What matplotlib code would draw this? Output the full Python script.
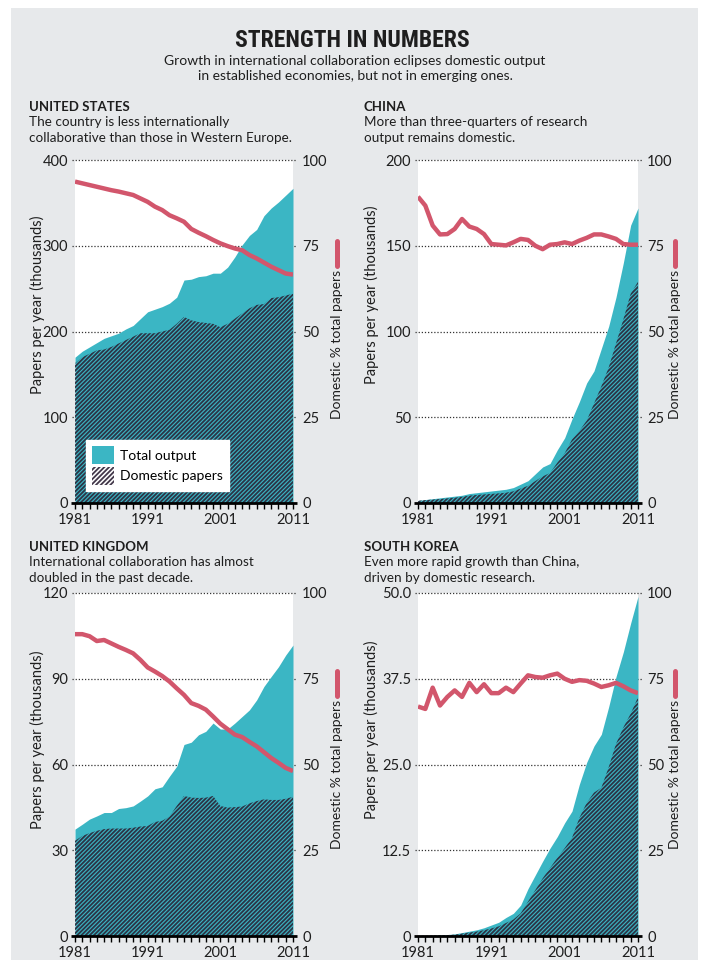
import matplotlib
matplotlib.use("Agg")
import matplotlib.pyplot as plt
from matplotlib.patches import Patch, Rectangle
from matplotlib.lines import Line2D

plt.rcParams['font.family'] = ['Lato', 'DejaVu Sans']
plt.rcParams['hatch.linewidth'] = 1.3

# Dados (1981-2011)
years = list(range(1981, 2012))

us_total = [170, 177, 182, 187, 192, 195, 198, 203, 207, 215, 223, 226, 229, 233, 240, 260,
            261, 264, 265, 268, 268, 275, 287, 301, 312, 319, 335, 344, 351, 359, 367]
us_domestic = [163, 170, 174, 178, 179, 182, 186, 190, 194, 198, 198, 198, 200, 202, 209, 217,
               213, 211, 210, 209, 205, 209, 215, 221, 227, 231, 232, 239, 240, 242, 244]
us_pct = [93.7, 93.2, 92.7, 92.2, 91.7, 91.2, 90.8, 90.3, 89.8, 88.8, 87.8, 86.4, 85.4, 83.9,
          83.0, 82.0, 79.9, 78.8, 77.8, 76.7, 75.7, 74.9, 74.2, 73.7, 72.3, 71.3, 70.1, 68.9,
          67.9, 66.9, 66.6]

cn_total = [1.5, 2, 2.5, 3, 3.5, 4, 4.5, 5.5, 6, 6.5, 7, 7.5, 8, 9, 11, 13, 17, 21, 23, 31,
            38, 49, 59, 70, 77, 90, 103, 120, 140, 162, 172]
cn_domestic = [1.3, 1.7, 2, 2.3, 2.7, 3.1, 3.6, 4.3, 4.7, 5, 5.3, 5.6, 6, 6.8, 8.4, 10, 12.8,
               15.5, 17.5, 23.5, 29, 37, 42, 48, 58, 68, 79, 93, 107, 122, 129]
cn_pct = [89.3, 86.7, 80.9, 78.3, 78.4, 79.9, 82.8, 80.6, 79.9, 78.4, 75.5, 75.3, 75.1, 76.0,
          77.0, 76.7, 75.0, 74.0, 75.3, 75.5, 76.0, 75.5, 76.5, 77.3, 78.3, 78.3, 77.7, 77.0,
          75.5, 75.3, 75.3]

uk_total = [37.4, 39.1, 40.9, 42.0, 43.2, 43.2, 44.6, 44.9, 45.5, 47.2, 49.0, 51.5, 52.2, 55.9,
            59.4, 67.0, 67.8, 70.4, 71.6, 74.5, 72.4, 72.4, 74.5, 76.8, 79.1, 82.6, 87.3, 90.8,
            94.2, 98.3, 101.8]
uk_domestic = [33.3, 35.0, 36.0, 36.8, 37.4, 37.6, 37.6, 37.6, 37.9, 38.3, 38.5, 39.9, 40.3,
               41.8, 45.5, 49.0, 48.4, 48.3, 48.4, 49.0, 45.5, 44.9, 45.1, 45.3, 46.4, 47.2,
               47.8, 47.6, 47.6, 48.0, 48.7]
uk_pct = [88.0, 88.0, 87.4, 86.0, 86.3, 85.3, 84.3, 83.4, 82.4, 80.5, 78.3, 77.1, 75.8, 74.2,
          72.2, 70.3, 67.9, 67.1, 66.0, 64.0, 61.9, 60.3, 58.7, 58.0, 56.6, 55.3, 53.6, 51.9,
          50.5, 49.0, 48.1]

kr_total = [0.05, 0.07, 0.1, 0.15, 0.2, 0.3, 0.5, 0.7, 0.9, 1.2, 1.6, 2.0, 2.7, 3.3, 4.5, 6.9,
            8.9, 10.9, 12.8, 14.5, 16.5, 18.2, 22.1, 25.3, 27.7, 29.4, 33.4, 37.8, 41.4, 45.6, 49.5]
kr_domestic = [0.03, 0.05, 0.07, 0.1, 0.14, 0.2, 0.35, 0.5, 0.65, 0.85, 1.1, 1.4, 1.9, 2.4,
               3.3, 5.0, 6.7, 8.4, 9.9, 11.4, 12.8, 14.3, 17.2, 19.4, 20.9, 21.6, 24.6, 28.0,
               30.4, 32.4, 34.8]
kr_pct = [66.9, 66.2, 72.4, 67.2, 69.7, 71.6, 69.7, 73.8, 71.1, 73.4, 70.8, 70.8, 72.4, 71.1,
          73.6, 76.0, 75.5, 75.3, 76.0, 76.5, 75.0, 74.1, 74.6, 74.4, 73.6, 72.6, 73.1, 73.8,
          72.8, 71.6, 70.8]

us_ticks = [0, 100, 200, 300, 400]
cn_ticks = [0, 50, 100, 150, 200]
uk_ticks = [0, 30, 60, 90, 120]
kr_ticks = [0, 12.5, 25.0, 37.5, 50.0]
kr_ticklabels = ["0", "12.5", "25.0", "37.5", "50.0"]
pct_ticks = [0, 25, 50, 75, 100]
year_labels = [1981, 1991, 2001, 2011]

TEAL = '#3bb6c4'
DARK = '#2c3446'
RED = '#d2566c'
GRAY = '#e7e9eb'
INK = '#1e1e1e'

W, H = 711, 960
def fx(x):
    return x / W
def fy(y):
    return 1 - y / H

fig = plt.figure(figsize=(7.11, 9.6), dpi=100)
fig.patches.append(Rectangle((fx(11), 0), fx(698) - fx(11), fy(8), transform=fig.transFigure,
                             facecolor=GRAY, edgecolor='none', zorder=-10))

fig.text(fx(352), fy(47), "STRENGTH IN NUMBERS", ha='center', va='baseline', fontsize=17,
         fontweight='bold', fontstretch='condensed',
         family=['Roboto Condensed', 'DejaVu Sans Condensed', 'Liberation Sans Narrow',
                 'Open Sans Condensed', 'Roboto'], color=INK)
fig.text(fx(355), fy(65), "Growth in international collaboration eclipses domestic output",
         ha='center', va='baseline', fontsize=10, color=INK)
fig.text(fx(355), fy(80), "in established economies, but not in emerging ones.",
         ha='center', va='baseline', fontsize=10, color=INK)


def panel(rect, total, domestic, pct, ticks, ticklabels, title, lines, xtxt, ytop,
          ylab_x, ylab_y, rlab_x, rlab_y, legend=False):
    ax = fig.add_axes(rect)
    ax.set_facecolor('white')
    ymax = ticks[-1]
    ax.fill_between(years, 0, total, color=TEAL, lw=0, zorder=2)
    ax.fill_between(years, 0, domestic, facecolor='none', edgecolor=DARK, hatch='////////',
                    lw=0, zorder=3)
    for t in ticks[1:]:
        ax.axhline(t, xmin=-0.015, xmax=1.02, color='#333333', lw=0.9, ls=(0, (1, 1.5)),
                   clip_on=False, zorder=1)
    ax.plot([-0.02, 1.02], [0, 0], transform=ax.transAxes, color='black', lw=2,
            clip_on=False, zorder=6, solid_capstyle='butt')
    ax.set_xlim(years[0], years[-1])
    ax.set_ylim(0, ymax)
    for s in ax.spines.values():
        s.set_visible(False)
    ax.set_yticks(ticks)
    ax.set_yticklabels(ticklabels)
    ax.tick_params(axis='y', length=0, pad=5, labelsize=10.5, colors=INK)
    ax.set_xticks(year_labels)
    ax.set_xticks(years, minor=True)
    ax.tick_params(axis='x', which='both', length=4, width=1, color='black', direction='out',
                   labelsize=10.5, pad=3, labelcolor=INK)

    ax2 = ax.twinx()
    ax2.plot(years, pct, color=RED, lw=3.2, zorder=5, solid_capstyle='butt')
    ax2.set_ylim(0, 100)
    ax2.set_yticks(pct_ticks)
    ax2.tick_params(axis='y', length=0, pad=6.5, labelsize=10.5, colors=INK)
    for s in ax2.spines.values():
        s.set_visible(False)

    fig.text(fx(xtxt), fy(ytop), title, fontsize=9.5, fontweight='bold', va='baseline',
             color=INK)
    for i, l in enumerate(lines):
        fig.text(fx(xtxt), fy(ytop + 15.5 * (i + 1)), l, fontsize=9.75, va='baseline',
                 color=INK)

    fig.text(fx(ylab_x), fy(ylab_y), "Papers per year (thousands)", rotation=90, ha='center',
             va='center', fontsize=10.5, color=INK)
    fig.text(fx(rlab_x), fy(rlab_y), "Domestic % total papers", rotation=90, ha='center',
             va='top', fontsize=10, color=INK)
    fig.add_artist(Line2D([fx(rlab_x), fx(rlab_x)], [fy(rlab_y - 4), fy(rlab_y - 29)],
                          transform=fig.transFigure, color=RED, lw=3.6,
                          solid_capstyle='round'))

    if legend:
        handles = [Patch(facecolor=TEAL, edgecolor='none', label='Total output'),
                   Patch(facecolor='white', edgecolor='#43384a', hatch='///////', lw=0,
                         label='Domestic papers')]
        lg = ax.legend(handles=handles, loc='lower left', bbox_to_anchor=(0.018, 0.015),
                       frameon=True, fancybox=False, framealpha=1, edgecolor='white',
                       fontsize=10, handlelength=1.6, handleheight=1.6, handletextpad=0.4,
                       labelspacing=0.2, borderpad=0.45)
        lg.set_zorder(20)
    return ax


panel([fx(75), fy(503), fx(293) - fx(75), fy(160) - fy(503)], us_total, us_domestic, us_pct,
      us_ticks, [str(t) for t in us_ticks], "UNITED STATES",
      ["The country is less internationally", "collaborative than those in Western Europe."],
      29, 111, 37, 305, 337, 270, legend=True)
panel([fx(418), fy(503), fx(638) - fx(418), fy(160) - fy(503)], cn_total, cn_domestic, cn_pct,
      cn_ticks, [str(t) for t in cn_ticks], "CHINA",
      ["More than three-quarters of research", "output remains domestic."],
      364, 111, 371, 295, 675, 270)
panel([fx(75), fy(936), fx(293) - fx(75), fy(593) - fy(936)], uk_total, uk_domestic, uk_pct,
      uk_ticks, [str(t) for t in uk_ticks], "UNITED KINGDOM",
      ["International collaboration has almost", "doubled in the past decade."],
      29, 551, 37, 740, 337, 700)
panel([fx(418), fy(936), fx(638) - fx(418), fy(593) - fy(936)], kr_total, kr_domestic, kr_pct,
      kr_ticks, kr_ticklabels, "SOUTH KOREA",
      ["Even more rapid growth than China,", "driven by domestic research."],
      364, 551, 371, 730, 675, 700)

fig.savefig('out.png', dpi=100)
